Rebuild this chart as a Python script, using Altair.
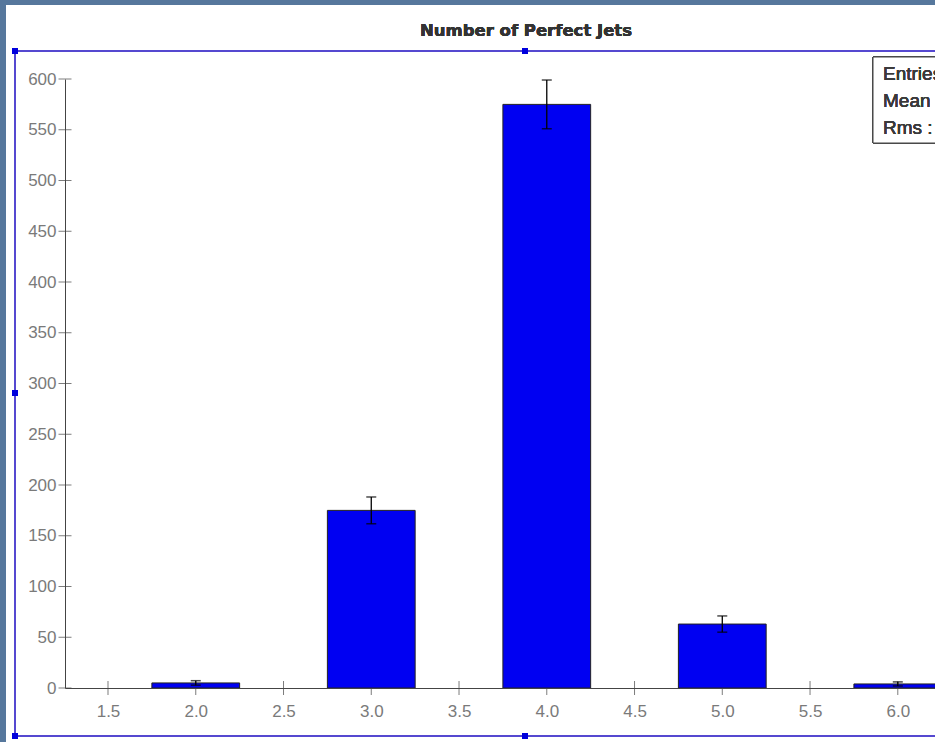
import altair as alt
import pandas as pd

# Histogram contents: bin centres, entries per bin and their errors
centers = [2.0, 3.0, 4.0, 5.0, 6.0]
counts = [5, 175, 575, 63, 4]
errors = [2.2, 13.2, 24.0, 8.0, 2.0]
bin_half = 0.25

x_ticks = [1.5, 2.0, 2.5, 3.0, 3.5, 4.0, 4.5, 5.0, 5.5, 6.0]
y_ticks = [0, 50, 100, 150, 200, 250, 300, 350, 400, 450, 500, 550, 600]

title_text = "Number of Perfect Jets"
stats_lines = ["Entries : 823", "Mean : 3.85", "Rms : 0.59"]

W, H = 870, 609
PAD_L, PAD_T = 65, 79

hist = pd.DataFrame({
    "center": centers,
    "count": counts,
    "lo": [c - bin_half for c in centers],
    "hi": [c + bin_half for c in centers],
    "elo": [n - e for n, e in zip(counts, errors)],
    "ehi": [n + e for n, e in zip(counts, errors)],
})
xt = pd.DataFrame({"x": x_ticks, "y": [0] * len(x_ticks)})
yt = pd.DataFrame({"y": y_ticks})

xs = alt.Scale(domain=[1.255, 6.212], nice=False, zero=False)
ys = alt.Scale(domain=[0, 600], nice=False)

x_axis = alt.Axis(values=x_ticks, format=".1f", ticks=False, tickSize=0, grid=False,
                  labelPadding=15, labelFontSize=17, labelColor="#7a7a7a",
                  labelFont="Liberation Sans", domainColor="#444444", title=None, zindex=1)
y_axis = alt.Axis(values=y_ticks, ticks=False, tickSize=0, grid=False,
                  labelPadding=9, labelFontSize=17, labelColor="#7a7a7a",
                  labelFont="Liberation Sans", domainColor="#444444", title=None, zindex=1)

# white canvas panel
panel = alt.Chart(hist).mark_rect(color="white").encode(
    x=alt.value(6 - PAD_L), x2=alt.value(W), y=alt.value(5 - PAD_T), y2=alt.value(742 - PAD_T)
)

frame_col = "#5548d0"
frame_top = alt.Chart(hist).mark_rule(color=frame_col, strokeWidth=2).encode(
    x=alt.value(15 - PAD_L), x2=alt.value(W), y=alt.value(51 - PAD_T)
)
frame_bot = alt.Chart(hist).mark_rule(color=frame_col, strokeWidth=2).encode(
    x=alt.value(15 - PAD_L), x2=alt.value(W), y=alt.value(736 - PAD_T)
)
frame_left = alt.Chart(hist).mark_rule(color=frame_col, strokeWidth=2).encode(
    x=alt.value(15 - PAD_L), y=alt.value(51 - PAD_T), y2=alt.value(736 - PAD_T)
)

handles = []
for hx, hy in [(15, 51), (525, 51), (15, 393), (15, 736), (525, 736)]:
    handles.append(
        alt.Chart(hist).mark_rect(color="#0000dd").encode(
            x=alt.value(hx - PAD_L - 3), x2=alt.value(hx - PAD_L + 3),
            y=alt.value(hy - PAD_T - 3), y2=alt.value(hy - PAD_T + 3)
        )
    )

title = alt.Chart(hist).mark_text(
    text=title_text, font="DejaVu Sans", fontWeight="bold", fontSize=16.5, color="#333333",
    align="center", baseline="middle"
).encode(x=alt.value(526 - PAD_L), y=alt.value(31 - PAD_T))

# crossing tick marks on both axes
x_tick_marks = alt.Chart(xt).mark_tick(orient="vertical", size=14, thickness=1, color="#444444").encode(
    x=alt.X("x:Q", scale=xs, axis=x_axis), y=alt.Y("y:Q", scale=ys, axis=y_axis)
)
y_tick_marks = alt.Chart(yt).mark_tick(orient="horizontal", size=13, thickness=1, color="#444444").encode(
    y=alt.Y("y:Q", scale=ys), x=alt.value(0)
)

bars = alt.Chart(hist).mark_rect(color="#0000f2", stroke="#222222", strokeWidth=1, clip=True).encode(
    x=alt.X("lo:Q", scale=xs), x2="hi:Q", y=alt.Y("count:Q", scale=ys), y2=alt.datum(0)
)

err_line = alt.Chart(hist).mark_rule(color="black", strokeWidth=1.3).encode(
    x=alt.X("center:Q", scale=xs), y=alt.Y("elo:Q", scale=ys), y2="ehi:Q"
)
cap_hi = alt.Chart(hist).mark_tick(orient="horizontal", size=10, thickness=1.5, color="black").encode(
    x=alt.X("center:Q", scale=xs), y=alt.Y("ehi:Q", scale=ys)
)
cap_lo = alt.Chart(hist).mark_tick(orient="horizontal", size=10, thickness=1.5, color="black").encode(
    x=alt.X("center:Q", scale=xs), y=alt.Y("elo:Q", scale=ys)
)

# statistics box in the top right corner
stats_box = alt.Chart(hist).mark_rect(fill="white", stroke="#444444", strokeWidth=1).encode(
    x=alt.value(873 - PAD_L), x2=alt.value(W + 60), y=alt.value(57 - PAD_T), y2=alt.value(143 - PAD_T)
)
stats_text = []
for i, line in enumerate(stats_lines):
    stats_text.append(
        alt.Chart(hist).mark_text(
            text=line, font="Liberation Sans", fontSize=19, color="#3a3a3a",
            align="left", baseline="middle"
        ).encode(x=alt.value(883 - PAD_L), y=alt.value(74 + 27 * i - PAD_T))
    )

chart = alt.layer(
    panel, frame_top, frame_bot, frame_left, *handles, title,
    x_tick_marks, y_tick_marks, bars, err_line, cap_hi, cap_lo,
    stats_box, *stats_text
).properties(
    width=W, height=H,
    autosize=alt.AutoSizeParams(type="none"),
    padding={"left": PAD_L, "top": PAD_T, "right": 0, "bottom": 742 - PAD_T - H},
    background="#56779c",
).configure_view(stroke="transparent")

chart.save("out.html", embed_options={"renderer": "svg", "actions": False})
